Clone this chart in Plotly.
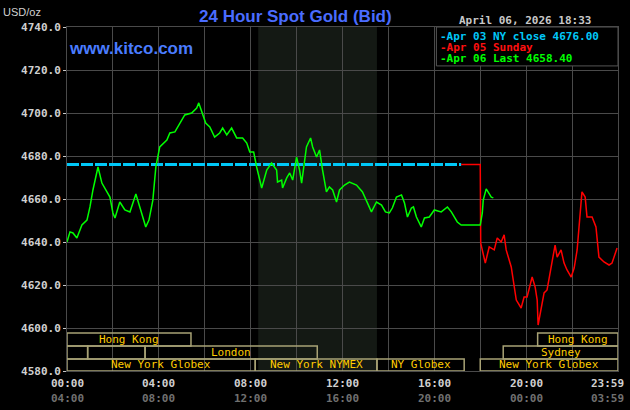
import plotly.graph_objects as go

green_t = [0.00,0.13,0.26,0.43,0.65,0.87,1.00,1.13,1.35,1.52,1.74,1.87,2.00,2.09,2.30,2.52,2.74,3.00,3.17,3.43,3.57,3.74,3.87,4.04,4.35,4.48,4.70,4.83,5.13,5.43,5.65,5.74,5.91,6.04,6.22,6.43,6.65,6.78,6.96,7.17,7.39,7.65,7.83,7.96,8.13,8.26,8.48,8.70,8.91,9.13,9.17,9.35,9.39,9.57,9.70,9.83,10.00,10.13,10.22,10.43,10.61,10.70,10.87,11.00,11.13,11.30,11.43,11.57,11.74,11.87,12.09,12.30,12.61,12.87,13.09,13.26,13.48,13.70,13.87,14.04,14.17,14.35,14.57,14.70,14.83,15.00,15.09,15.22,15.43,15.57,15.78,16.00,16.30,16.57,16.74,17.00,17.17,17.96,18.00,18.09,18.13,18.26,18.35,18.48,18.57]
green_p = [4640.0,4644.7,4644.2,4641.9,4647.9,4650.2,4656.3,4664.2,4674.9,4667.4,4663.3,4660.9,4653.5,4651.2,4658.6,4654.9,4654.0,4662.3,4656.3,4647.0,4650.2,4659.5,4674.9,4684.2,4687.4,4690.7,4691.2,4693.5,4699.1,4700.0,4702.3,4704.7,4699.1,4695.3,4693.5,4688.8,4690.7,4693.0,4689.8,4693.0,4688.4,4688.4,4686.0,4681.9,4681.9,4674.9,4665.1,4673.5,4676.7,4673.5,4667.9,4668.8,4665.1,4669.8,4672.1,4668.8,4679.5,4673.5,4667.4,4684.2,4688.4,4684.2,4679.5,4682.8,4673.5,4663.3,4665.6,4664.2,4658.6,4664.2,4666.5,4667.9,4666.5,4663.3,4658.1,4654.0,4658.6,4657.2,4654.0,4653.5,4655.8,4660.9,4661.9,4658.1,4651.6,4655.8,4656.3,4651.6,4647.0,4651.2,4651.6,4654.9,4654.0,4656.3,4654.0,4649.3,4647.9,4647.9,4647.9,4653.5,4659.5,4664.7,4663.3,4660.9,4660.5]

red_t = [17.17,18.00,18.02,18.22,18.39,18.61,18.74,18.91,19.04,19.13,19.35,19.48,19.57,19.78,19.91,20.04,20.26,20.39,20.48,20.52,20.65,20.78,20.91,21.09,21.26,21.35,21.52,21.65,21.78,21.96,22.09,22.22,22.30,22.43,22.57,22.65,22.87,23.04,23.17,23.39,23.61,23.74,23.96]
red_p = [4676.0,4676.0,4639.5,4630.2,4637.7,4636.3,4641.9,4640.0,4643.3,4636.3,4628.4,4619.1,4613.0,4609.3,4614.4,4614.4,4623.7,4619.1,4613.0,4601.4,4608.4,4616.3,4617.7,4628.4,4638.6,4633.0,4636.3,4630.2,4627.0,4623.7,4627.9,4636.3,4647.0,4663.3,4660.9,4651.6,4651.6,4647.0,4633.0,4630.7,4629.3,4630.2,4637.2]

close_t = [0, 17.17]
close_p = [4676.0, 4676.0]

y_ticks = [4580, 4600, 4620, 4640, 4660, 4680, 4700, 4720, 4740]
ny_ticks = [0, 4, 8, 12, 16, 20, 24]
ny_labels = ["00:00", "04:00", "08:00", "12:00", "16:00", "20:00", "23:59"]
gmt_labels = ["04:00", "08:00", "12:00", "16:00", "20:00", "00:00", "03:59"]

sessions = [
    (0, 0, 5.4, "Hong Kong"), (0, 20.5, 24, "Hong Kong"),
    (1, 0, 0.9, ""), (1, 0.9, 3.4, ""), (1, 3.4, 10.9, "London"), (1, 19.0, 24, "Sydney"),
    (2, 0, 8.2, "New York Globex"), (2, 8.2, 13.5, "New York NYMEX"),
    (2, 13.5, 17.3, "NY Globex"), (2, 18.0, 24, "New York Globex"),
]
row_y = [(4591.6, 4597.7), (4585.6, 4591.6), (4580.0, 4585.6)]

MONO = "DejaVu Sans Mono"
fig = go.Figure()
fig.add_trace(go.Scatter(x=close_t, y=close_p, mode="lines",
                         line=dict(color="#00c8f8", width=3, dash="12px,2px")))
fig.add_trace(go.Scatter(x=red_t, y=red_p, mode="lines", line=dict(color="#ff0000", width=1.5)))
fig.add_trace(go.Scatter(x=green_t, y=green_p, mode="lines", line=dict(color="#00ff00", width=1.5)))

shapes = [dict(type="rect", xref="x", yref="y", x0=8.33, x1=13.5, y0=4580, y1=4740,
               fillcolor="#141914", line=dict(width=0), layer="below")]
ann = []
for r, a, b, lab in sessions:
    y0, y1 = row_y[r]
    shapes.append(dict(type="rect", xref="x", yref="y", x0=a, x1=b, y0=y0, y1=y1,
                       fillcolor="rgba(0,0,0,0)", line=dict(color="#a8a275", width=1.5), layer="between"))
    if lab:
        ann.append(dict(x=(a + b) / 2, y=(y0 + y1) / 2, xref="x", yref="y", text=lab, showarrow=False,
                        font=dict(family=MONO, size=11, color="#ffcc00")))
shapes.append(dict(type="rect", xref="x", yref="y", x0=16.09, x1=24, y0=4721.9, y1=4740,
                   fillcolor="#000", line=dict(color="#555", width=1), layer="between"))
leg = [("-Apr 03 NY close 4676.00", "#00c8f8", 4735.8), ("-Apr 05 Sunday", "#ff1010", 4730.7),
       ("-Apr 06 Last 4658.40", "#00ff00", 4725.3)]
for t, c, y in leg:
    ann.append(dict(x=16.15, y=y, xref="x", yref="y", text="<b>" + t + "</b>", showarrow=False,
                    xanchor="left", font=dict(family=MONO, size=11, color=c)))
for v, a, g in zip(ny_ticks, ny_labels, gmt_labels):
    xv = 23.55 if v == 24 else v
    ann.append(dict(x=xv, y=0, xref="x", yref="paper", yshift=-4, text="<b>" + a + "</b>", showarrow=False,
                    yanchor="top", font=dict(family=MONO, size=11, color="#d0d0d0")))
    ann.append(dict(x=xv, y=0, xref="x", yref="paper", yshift=-19, text="<b>" + g + "</b>", showarrow=False,
                    yanchor="top", font=dict(family=MONO, size=11, color="#707070")))
ann += [
    dict(x=-1.95, y=0, xref="x", yref="paper", yshift=-4, yanchor="top", text="NY Time", showarrow=False,
         font=dict(family="Liberation Sans Narrow, Arial", size=11, color="#d0d0d0")),
    dict(x=-2.1, y=0, xref="x", yref="paper", yshift=-19, yanchor="top", text="GMT", showarrow=False,
         font=dict(family="Liberation Sans Narrow, Arial", size=11, color="#d0d0d0")),
    dict(x=-0.12, y=1, xref="paper", yref="paper", xanchor="left", yshift=15, yanchor="middle",
         text="USD/oz", showarrow=False, font=dict(family="Liberation Sans", size=11, color="#d0d0d0")),
    dict(x=0.0, y=4730, xref="x", yref="y", xanchor="left", text="<b>www.kitco.com</b>", showarrow=False,
         font=dict(family="Liberation Sans", size=17, color="#4a7cff")),
    dict(x=(295 - 67) / 551, y=1, yshift=11, yanchor="middle", xref="paper", yref="paper",
         text="<b>24 Hour Spot Gold (Bid)</b>",
         showarrow=False, font=dict(family="Liberation Sans", size=17, color="#4a6cff")),
    dict(x=1.0, y=1, yshift=7, yanchor="middle", xref="paper", yref="paper", xanchor="right",
         text="<b>April 06, 2026 18:33</b>",
         showarrow=False, xshift=-25, font=dict(family=MONO, size=11, color="#c8c8c8")),
]

fig.update_layout(
    width=630, height=410, margin=dict(l=67, r=12, t=27, b=39, autoexpand=False),
    paper_bgcolor="#000", plot_bgcolor="#000", showlegend=False,
    shapes=shapes, annotations=ann,
    xaxis=dict(range=[0, 24], tickvals=list(range(0, 25, 2)), showticklabels=False, automargin=False,
               showgrid=True, gridcolor="#4a4a4a", gridwidth=1, zeroline=False,
               showline=True, linecolor="#4a4a4a", mirror=True),
    yaxis=dict(range=[4580, 4740], tickvals=y_ticks, tickformat=".1f", showgrid=True, automargin=False,
               gridcolor="#4a4a4a", zeroline=False, ticks="outside", ticklen=3, tickcolor="#c8c8c8",
               tickfont=dict(family=MONO, size=11, color="#d0d0d0", weight="bold"),
               showline=True, linecolor="#4a4a4a", mirror=True),
)
fig.write_html("out.html", config={"displayModeBar": False})
with open("out.html", encoding="utf-8") as f:
    html = f.read()
html = html.replace("<body>", '<body style="margin:0;background:#000">', 1)
with open("out.html", "w", encoding="utf-8") as f:
    f.write(html)
